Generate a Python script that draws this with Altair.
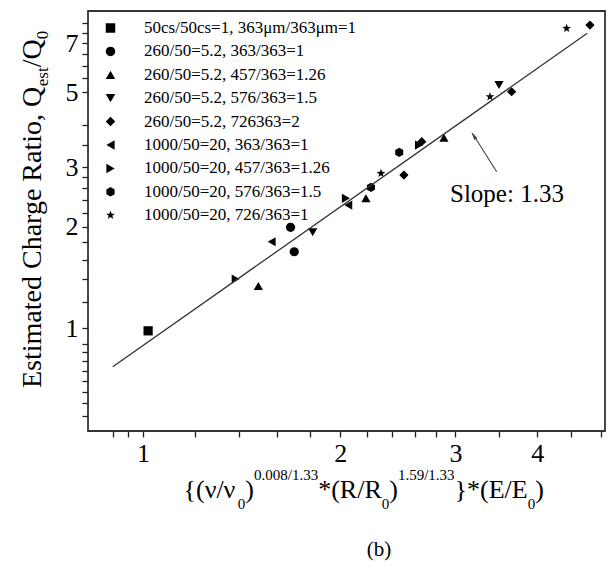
import altair as alt
import pandas as pd

# ---------------- data ----------------
series_names = [
    "50cs/50cs=1, 363μm/363μm=1",
    "260/50=5.2, 363/363=1",
    "260/50=5.2, 457/363=1.26",
    "260/50=5.2, 576/363=1.5",
    "260/50=5.2, 726363=2",
    "1000/50=20, 363/363=1",
    "1000/50=20, 457/363=1.26",
    "1000/50=20, 576/363=1.5",
    "1000/50=20, 726/363=1",
]

point_series = [0, 1, 1, 2, 2, 2, 3, 3, 4, 4, 4, 4, 5, 5, 6, 6, 6, 7, 7, 8, 8, 8]
point_x = [1.018, 1.680, 1.702, 1.50, 2.19, 2.881, 1.816, 3.497, 2.503, 2.665,
           3.656, 4.815, 1.572, 2.058, 1.385, 2.041, 2.639, 2.229, 2.462,
           2.309, 3.388, 4.436]
point_y = [0.984, 1.993, 1.687, 1.335, 2.428, 3.670, 1.926, 5.259, 2.846, 3.572,
           5.022, 7.915, 1.806, 2.319, 1.401, 2.428, 3.492, 2.617, 3.323,
           2.879, 4.855, 7.740]

fit_x = [0.899, 4.77]
fit_y = [0.770, 7.48]

x_domain = [0.824, 5.077]
y_domain = [0.497, 8.71]
x_ticks = [0.9, 0.95, 1, 1.2, 1.4, 1.6, 1.8, 2, 2.2, 2.4, 2.6, 2.8, 3, 3.5, 4, 4.5, 5]
x_tick_labels = [1, 2, 3, 4]
y_ticks = [0.55, 0.6, 0.65, 0.7, 0.75, 0.8, 0.85, 0.9, 1, 1.2, 1.4, 1.6, 1.8, 2,
           2.2, 2.4, 2.6, 2.8, 3, 3.5, 4, 5, 5.5, 6, 6.5, 7, 7.5, 8]
y_tick_labels = [1, 2, 3, 5, 7]

# ---------------- styles ----------------
HEX = "M0,-1L0.866,-0.5L0.866,0.5L0,1L-0.866,0.5L-0.866,-0.5Z"
STAR = ("M0,-1L0.235,-0.324L0.951,-0.309L0.38,0.124L0.588,0.809L0,0.4"
        "L-0.588,0.809L-0.38,0.124L-0.951,-0.309L-0.235,-0.324Z")
series_shapes = ["square", "circle", "triangle-up", "triangle-down", "diamond",
                 "triangle-left", "triangle-right", HEX, STAR]
FONT = "Liberation Serif"

df = pd.DataFrame({
    "x": point_x,
    "y": point_y,
    "series": [series_names[i] for i in point_series],
})
df_fit = pd.DataFrame({"x": fit_x, "y": fit_y})


def label_expr(vals):
    return ("indexof([" + ",".join(str(v) for v in vals) +
            "], datum.value) >= 0 ? toString(datum.value) : ''")


xscale = alt.Scale(type="log", domain=x_domain, nice=False)
yscale = alt.Scale(type="log", domain=y_domain, nice=False)

xaxis = alt.Axis(values=x_ticks, labelExpr=label_expr(x_tick_labels), title=None,
                 labelOverlap=False, labelFlush=False, labelBound=False,
                 labelFont=FONT, labelFontSize=26, labelColor="black",
                 labelPadding=3, tickSize=6, tickColor="#222", tickWidth=1.3,
                 grid=False, domain=False)
yaxis = alt.Axis(values=y_ticks, labelExpr=label_expr(y_tick_labels), title=None,
                 labelOverlap=False, labelFlush=False, labelBound=False,
                 labelFont=FONT, labelFontSize=26, labelColor="black",
                 labelPadding=4, tickSize=6, tickColor="#222", tickWidth=1.3,
                 grid=False, domain=False)

points = alt.Chart(df).mark_point(filled=True, color="black", opacity=1, size=85).encode(
    x=alt.X("x:Q", scale=xscale, axis=xaxis),
    y=alt.Y("y:Q", scale=yscale, axis=yaxis),
    shape=alt.Shape("series:N", sort=series_names,
                    scale=alt.Scale(domain=series_names, range=series_shapes),
                    legend=alt.Legend(title=None, orient="none", legendX=14, legendY=8.5,
                                      padding=0, rowPadding=5.4, labelOffset=25,
                                      labelFont=FONT, labelFontSize=17, labelColor="black",
                                      labelLimit=500, symbolSize=90,
                                      symbolFillColor="black", symbolStrokeColor="black",
                                      symbolStrokeWidth=0)),
)

fit = alt.Chart(df_fit).mark_line(color="#333", strokeWidth=1.3).encode(
    x=alt.X("x:Q", scale=xscale),
    y=alt.Y("y:Q", scale=yscale),
)

one = pd.DataFrame({"a": [0]})


def txt(s, x, y, size, angle=0, align="left", baseline="alphabetic"):
    return alt.Chart(one).mark_text(font=FONT, fontSize=size, color="black",
                                    align=align, baseline=baseline, angle=angle).encode(
        x=alt.value(x), y=alt.value(y), text=alt.value(s))


slope_text = txt("Slope: 1.33", 362, 191, 25)
arrow_line = alt.Chart(one).mark_rule(color="#444", strokeWidth=1.1).encode(
    x=alt.value(384.5), y=alt.value(122.5), x2=alt.value(408.7), y2=alt.value(160.7))
arrow_head = alt.Chart(one).mark_point(shape="M0,-1L0.45,1L-0.45,1Z", filled=True,
                                       color="#444", opacity=1, size=70, angle=327.6).encode(
    x=alt.value(385.6), y=alt.value(124.5))

# character widths (Times / Liberation Serif metrics, em units)
W = {" ": .25, "(": .333, ")": .333, "*": .5, ",": .25, ".": .25, "/": .278, ":": .278,
     "{": .48, "}": .48, "E": .611, "C": .667, "Q": .722, "R": .667, "a": .444,
     "d": .5, "e": .444, "g": .5, "h": .5, "i": .278, "m": .778, "o": .5, "r": .333,
     "s": .389, "t": .278, "ν": .5}


def tw(s, fs):
    return sum(W.get(c, .5) for c in s) * fs


layers = [points, fit, slope_text, arrow_line, arrow_head]

# x-axis title with super/subscripts
XM, XS = 26, 15
x_pieces = [("{(ν/ν", "m"), ("0", "b"), (")", "m"), ("0.008/1.33", "p"),
            ("*(R/R", "m"), ("0", "b"), (")", "m"), ("1.59/1.33", "p"),
            ("}*(E/E", "m"), ("0", "b"), (")", "m")]
xbase = 487
cx = 95.5
for s, kind in x_pieces:
    fs = XM if kind == "m" else XS
    dy = 0 if kind == "m" else (-18 if kind == "p" else 11)
    layers.append(txt(s, cx, xbase + dy, fs))
    cx += tw(s, fs)

# y-axis title, rotated
YM, YS = 28, 17
y_pieces = [("Estimated Charge Ratio, Q", "m"), ("est", "b"), ("/Q", "m"), ("0", "b")]
cy = 377
for s, kind in y_pieces:
    fs = YM if kind == "m" else YS
    xb = -47 if kind == "m" else -40
    layers.append(txt(s, xb, cy, fs, angle=270))
    cy -= tw(s, fs)

layers.append(txt("(b)", 291, 545, 21, align="center"))

chart = alt.layer(*layers).properties(
    width=517, height=420,
    padding={"left": 88, "top": 11, "right": 3, "bottom": 135},
    autosize=alt.AutoSizeParams(type="none"),
    background="white",
).configure_view(stroke="#333", strokeWidth=1.8)

chart.save("out.html", embed_options={"renderer": "svg", "actions": False})
